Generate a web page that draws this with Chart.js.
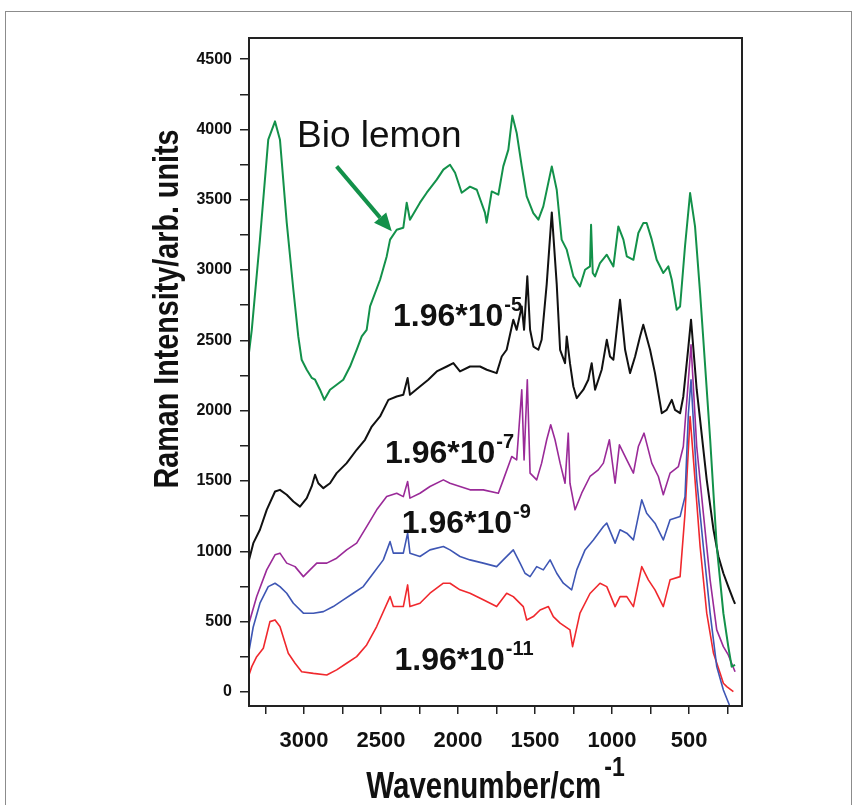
<!DOCTYPE html>
<html><head><meta charset="utf-8">
<script src="https://cdn.jsdelivr.net/npm/chart.js@4.4.1/dist/chart.umd.min.js"></script>
<style>
html,body{margin:0;padding:0;background:#fff;}
#wrap{position:relative;width:862px;height:805px;overflow:hidden;background:#fff;}
#frame{position:absolute;left:5px;top:11px;width:845px;height:830px;border:1.5px solid #8c8c8c;}
canvas{position:absolute;left:0;top:0;}
</style></head><body>
<div id="wrap"><div id="frame"></div><canvas id="c" width="862" height="805"></canvas></div>
<script>
// ---- data (wavenumber in cm^-1, intensity in arb. units) ----
const greenWavenumber = [3357,3339,3286,3232,3188,3156,3112,3069,3037,3015,2982,2950,2928,2896,2868,2831,2788,2745,2701,2658,2625,2593,2571,2506,2463,2441,2398,2355,2333,2312,2247,2203,2138,2095,2052,2019,1976,1922,1878,1825,1814,1781,1738,1706,1673,1647,1619,1586,1554,1511,1478,1446,1391,1359,1327,1294,1251,1208,1175,1143,1136,1125,1110,1078,1034,991,959,926,904,861,829,797,775,742,710,667,634,612,580,558,526,493,461,428,407,363,320,277,245,223,201];
const greenIntensity = [2412,2575,3216,3927,4057,3927,3337,2860,2528,2362,2291,2234,2220,2149,2077,2149,2184,2220,2314,2433,2528,2575,2741,2931,3097,3216,3287,3301,3479,3358,3479,3550,3643,3714,3749,3692,3550,3593,3571,3408,3337,3559,3536,3737,3856,4098,3975,3737,3524,3405,3358,3453,3737,3571,3216,3145,2955,2883,3002,3026,3322,2979,2955,3050,3109,3026,3310,3216,3097,3073,3263,3334,3334,3216,3073,2979,3026,2931,2718,2741,3169,3547,3310,2836,2504,1800,1034,560,322,180,192];

const blackWavenumber = [3357,3329,3286,3242,3188,3156,3112,3069,3026,2982,2950,2928,2907,2874,2831,2788,2723,2658,2604,2560,2506,2452,2398,2355,2327,2312,2247,2193,2138,2073,2030,1987,1922,1857,1813,1749,1716,1684,1641,1619,1586,1571,1550,1532,1510,1478,1457,1424,1391,1359,1337,1305,1294,1273,1251,1229,1186,1154,1132,1110,1067,1034,1013,991,948,915,883,850,818,797,753,721,677,645,612,591,558,537,504,487,450,428,385,341,309,277,245,212,201];
const blackIntensity = [939,1058,1153,1295,1425,1437,1402,1354,1318,1378,1461,1544,1484,1449,1484,1556,1627,1722,1793,1887,1959,2077,2101,2113,2232,2113,2172,2220,2279,2314,2338,2279,2314,2314,2291,2267,2385,2433,2647,2575,2741,2575,2955,2575,2456,2433,2504,2900,3410,2900,2433,2338,2528,2338,2172,2089,2149,2220,2338,2149,2291,2504,2385,2362,2789,2433,2267,2385,2528,2611,2433,2267,1982,2006,2077,2006,1982,2101,2456,2647,2149,1935,1508,1153,963,844,749,655,626];

const purpleWavenumber = [3357,3307,3242,3188,3156,3112,3058,3004,2961,2917,2852,2788,2723,2658,2593,2528,2463,2398,2355,2327,2312,2247,2182,2095,2052,1987,1922,1836,1738,1706,1651,1619,1586,1571,1550,1532,1489,1457,1424,1398,1370,1337,1305,1284,1273,1240,1197,1143,1089,1056,1017,980,952,904,861,829,792,742,699,667,623,569,537,504,487,450,407,363,320,277,245,201];
const purpleIntensity = [489,678,868,975,987,916,891,820,868,916,916,951,1010,1058,1176,1295,1389,1413,1389,1496,1378,1413,1461,1508,1484,1461,1437,1437,1413,1508,1674,1650,2149,1650,2220,1556,1508,1627,1793,1900,1793,1627,1484,1840,1484,1295,1413,1532,1579,1627,1793,1484,1757,1650,1556,1745,1840,1627,1532,1402,1556,1603,1745,2220,2469,1745,1271,797,441,322,263,144];

const blueWavenumber = [3357,3330,3286,3232,3188,3156,3112,3069,3004,2939,2874,2810,2745,2680,2615,2550,2485,2441,2420,2355,2327,2312,2247,2182,2095,2052,1987,1922,1836,1749,1706,1641,1597,1565,1532,1489,1446,1402,1359,1316,1262,1229,1175,1121,1056,1034,980,948,904,861,807,775,721,667,623,558,526,504,487,450,407,363,320,277,238];
const blueIntensity = [290,460,631,749,773,749,702,631,560,560,571,607,655,702,749,844,939,1069,987,987,1129,987,963,1010,1034,1010,963,939,916,891,939,1010,916,844,820,891,868,939,844,773,726,868,1010,1081,1176,1200,1058,1153,1129,1081,1366,1271,1200,1081,1224,1247,1389,1982,2220,1508,1034,560,180,14,-93];

const redWavenumber = [3357,3339,3307,3264,3221,3188,3156,3102,3058,3015,2939,2852,2788,2723,2658,2593,2528,2441,2420,2355,2327,2312,2247,2182,2095,2052,1987,1922,1836,1749,1684,1641,1576,1554,1511,1467,1413,1381,1337,1273,1256,1208,1143,1078,1034,980,948,904,861,807,764,721,667,623,558,526,493,461,428,385,341,298,277,255,212];
const redIntensity = [121,180,251,311,500,512,465,275,204,144,132,121,157,204,251,334,465,678,607,607,761,607,631,702,773,773,726,702,655,607,702,678,607,512,536,583,607,536,489,441,322,560,700,773,749,607,678,678,607,891,797,726,607,797,820,1271,1959,1508,1034,560,275,132,62,38,2];

const seriesNames = ['Bio lemon','1.96*10^-5','1.96*10^-7','1.96*10^-9','1.96*10^-11'];
const xMajorTicks = [500,1000,1500,2000,2500,3000];
const xMinorTicks = [250,750,1250,1750,2250,2750,3250];
const yMajorTicks = [0,500,1000,1500,2000,2500,3000,3500,4000,4500];
const yMinorTicks = [250,750,1250,1750,2250,2750,3250,3750,4250];

// ---- build ----
const pts = (w, v) => w.map((x, i) => ({x, y: v[i]}));
const DATA = [
  {name: seriesNames[0], d: pts(greenWavenumber, greenIntensity), c: '#13914a', w: 2},
  {name: seriesNames[1], d: pts(blackWavenumber, blackIntensity), c: '#111111', w: 2},
  {name: seriesNames[2], d: pts(purpleWavenumber, purpleIntensity), c: '#9a2a98', w: 1.6},
  {name: seriesNames[3], d: pts(blueWavenumber, blueIntensity), c: '#3e56b4', w: 1.6},
  {name: seriesNames[4], d: pts(redWavenumber, redIntensity), c: '#f0282d', w: 1.6}
];

const SANS = '"Liberation Sans", Arial, sans-serif';

const annot = {
  bio: {text: 'Bio lemon', v: 3045, i: 3877},
  arrow: {from: {v: 2788, i: 3737}, to: {v: 2430, i: 3275}},
  conc: [
    {base: '1.96*10', exp: '-5', v: 2422, i: 2604},
    {base: '1.96*10', exp: '-7', v: 2474, i: 1629},
    {base: '1.96*10', exp: '-9', v: 2365, i: 1131},
    {base: '1.96*10', exp: '-11', v: 2412, i: 157}
  ]
};

// condensed text helper: draws text squeezed horizontally by factor k
function narrowText(ctx, txt, x, y, k) {
  ctx.save();
  ctx.translate(x, y);
  ctx.scale(k, 1);
  ctx.fillText(txt, 0, 0);
  ctx.restore();
}

const overlay = {
  id: 'overlay',
  afterDraw(chart) {
    const {ctx, chartArea: a, scales: {x, y}} = chart;
    ctx.save();
    // plot frame
    ctx.strokeStyle = '#222'; ctx.lineWidth = 2;
    ctx.strokeRect(a.left, a.top, a.right - a.left, a.bottom - a.top);
    ctx.fillStyle = '#111';
    const K = 0.82;
    // y title
    ctx.save();
    ctx.translate(a.left - 81, a.top + 271);
    ctx.rotate(-Math.PI / 2);
    ctx.font = 'bold 35px ' + SANS;
    ctx.textBaseline = 'middle'; ctx.textAlign = 'left';
    const yt = 'Raman Intensity/arb. units';
    const yw = ctx.measureText(yt).width * K;
    narrowText(ctx, yt, -yw / 2, 0, K);
    ctx.restore();
    // x title
    ctx.textAlign = 'left'; ctx.textBaseline = 'alphabetic';
    ctx.font = 'bold 36px ' + SANS;
    const xt = 'Wavenumber/cm';
    const xw = ctx.measureText(xt).width * K;
    ctx.font = 'bold 28px ' + SANS;
    const sw = ctx.measureText('-1').width * K;
    const x0 = (a.left + a.right) / 2 - (xw + sw + 3) / 2;
    ctx.font = 'bold 36px ' + SANS;
    narrowText(ctx, xt, x0, 798, K);
    ctx.font = 'bold 28px ' + SANS;
    narrowText(ctx, '-1', x0 + xw + 3, 776, K);
    // Bio lemon
    ctx.font = '37px ' + SANS;
    ctx.fillText(annot.bio.text, x.getPixelForValue(annot.bio.v), y.getPixelForValue(annot.bio.i));
    // arrow
    const ax0 = x.getPixelForValue(annot.arrow.from.v), ay0 = y.getPixelForValue(annot.arrow.from.i);
    const ax1 = x.getPixelForValue(annot.arrow.to.v), ay1 = y.getPixelForValue(annot.arrow.to.i);
    const ang = Math.atan2(ay1 - ay0, ax1 - ax0);
    const hl = 18, hw = 8;
    ctx.strokeStyle = '#13914a'; ctx.fillStyle = '#13914a'; ctx.lineWidth = 4;
    ctx.beginPath(); ctx.moveTo(ax0, ay0);
    ctx.lineTo(ax1 - hl * Math.cos(ang), ay1 - hl * Math.sin(ang)); ctx.stroke();
    ctx.beginPath(); ctx.moveTo(ax1, ay1);
    ctx.lineTo(ax1 - hl * Math.cos(ang) + hw * Math.sin(ang), ay1 - hl * Math.sin(ang) - hw * Math.cos(ang));
    ctx.lineTo(ax1 - hl * Math.cos(ang) - hw * Math.sin(ang), ay1 - hl * Math.sin(ang) + hw * Math.cos(ang));
    ctx.closePath(); ctx.fill();
    // concentration labels
    ctx.fillStyle = '#111';
    for (const c of annot.conc) {
      const px = x.getPixelForValue(c.v), py = y.getPixelForValue(c.i);
      ctx.font = 'bold 32px ' + SANS;
      ctx.fillText(c.base, px, py);
      const bw = ctx.measureText(c.base).width;
      ctx.font = 'bold 20px ' + SANS;
      ctx.fillText(c.exp, px + bw + 1, py - 15);
    }
    ctx.restore();
  }
};

new Chart(document.getElementById('c'), {
  type: 'line',
  data: {
    datasets: DATA.map(s => ({
      label: s.name, data: s.d, borderColor: s.c, backgroundColor: s.c,
      borderWidth: s.w, pointRadius: 0, tension: 0, fill: false, borderJoinStyle: 'round'
    }))
  },
  options: {
    responsive: false, animation: false,
    layout: {padding: {left: 0, top: 38, right: 120, bottom: 0}},
    plugins: {legend: {display: false}, tooltip: {enabled: false}},
    scales: {
      x: {
        type: 'linear', reverse: true, min: 156, max: 3357,
        afterFit(s) { s.height = 99; },
        afterBuildTicks(s) { s.ticks = xMinorTicks.concat(xMajorTicks).sort((p, q) => p - q).map(v => ({value: v})); },
        ticks: {
          autoSkip: false, maxRotation: 0, padding: 14, color: '#111',
          font: {family: SANS, size: 22, weight: 'bold'},
          callback: v => xMajorTicks.includes(v) ? String(v) : ''
        },
        grid: {drawOnChartArea: false, drawTicks: true, tickLength: 8, color: '#222', lineWidth: 1.5},
        border: {display: true, color: '#222', width: 2}
      },
      y: {
        type: 'linear', min: -100, max: 4650,
        afterFit(s) { s.width = 249; },
        afterBuildTicks(s) { s.ticks = yMinorTicks.concat(yMajorTicks).sort((p, q) => p - q).map(v => ({value: v})); },
        ticks: {
          autoSkip: false, padding: 8, color: '#111',
          font: {family: SANS, size: 16, weight: 'bold'},
          callback: v => yMajorTicks.includes(v) ? String(v) : ''
        },
        grid: {drawOnChartArea: false, drawTicks: true, tickLength: 9, color: '#222', lineWidth: 1.5},
        border: {display: true, color: '#222', width: 2}
      }
    }
  },
  plugins: [overlay]
});
</script>
</body></html>
